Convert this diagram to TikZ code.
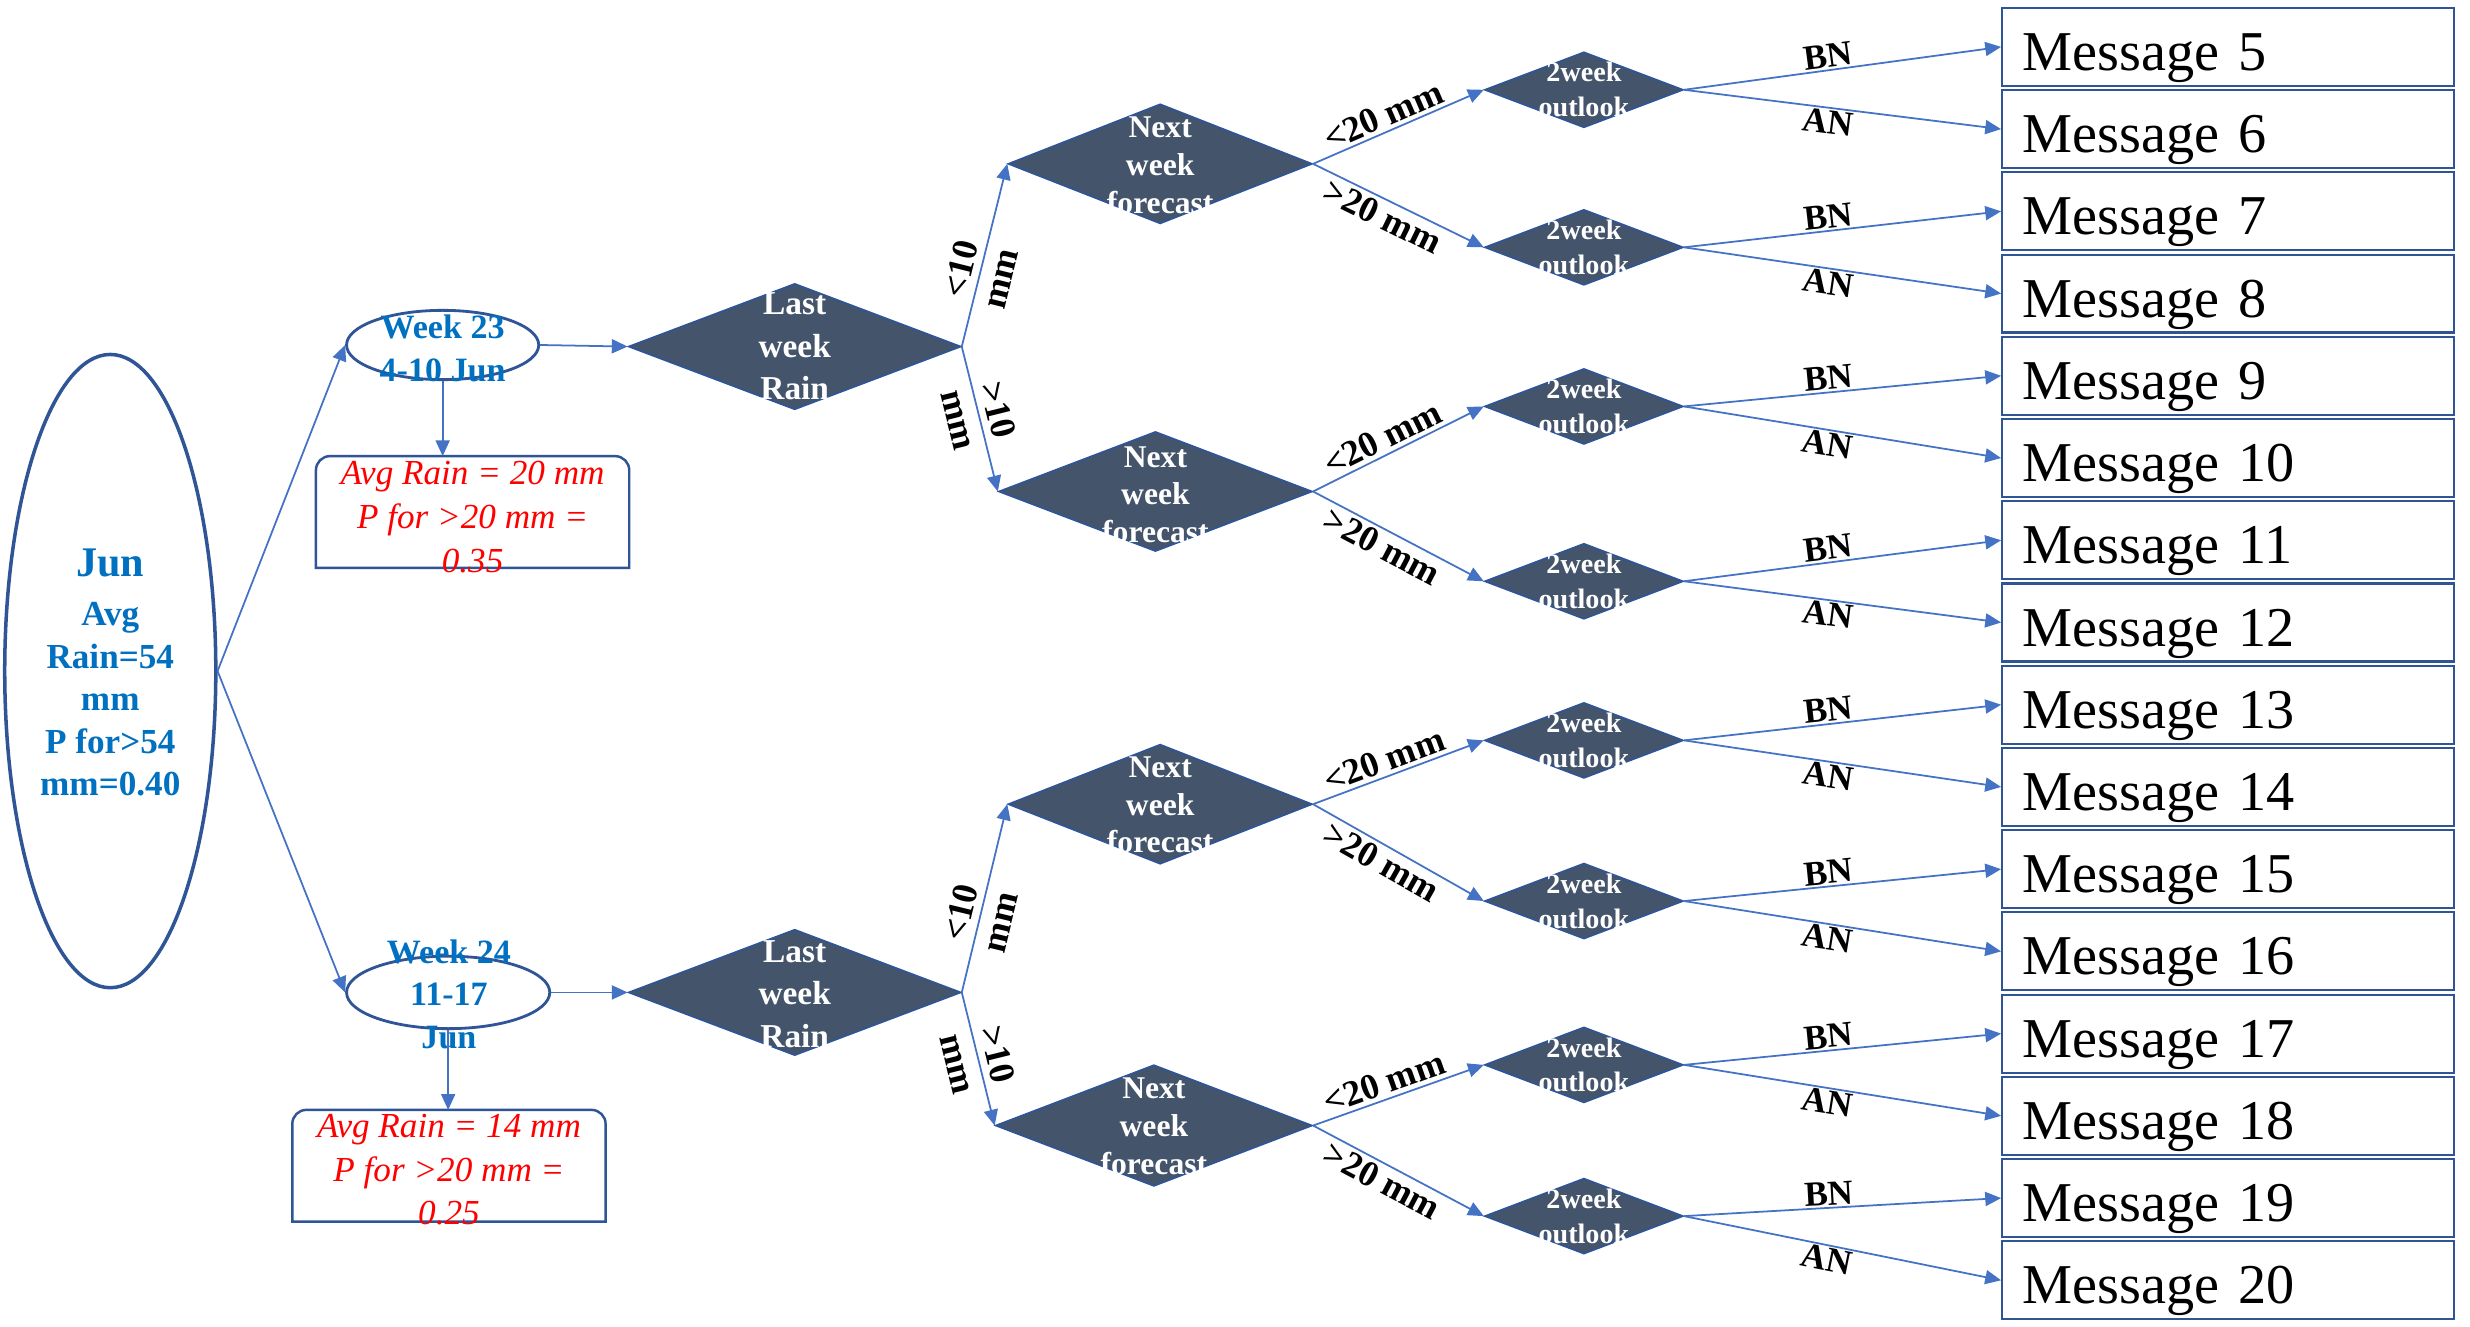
\documentclass[tikz,border=0pt]{standalone}
\usepackage{fontspec}
\setmainfont{Liberation Serif}
\usetikzlibrary{shapes.geometric,arrows.meta,calc}
\definecolor{arrowblue}{HTML}{4472C4}
\definecolor{darkblue}{HTML}{2F5597}
\definecolor{slate}{HTML}{44546A}
\definecolor{blueink}{HTML}{0070C0}
\definecolor{redink}{HTML}{FF0000}
\def\pxu{0.1575mm}
\tikzset{
  conn/.style={draw=arrowblue, line width=0.5pt, -{Triangle[length=4.5pt,width=4pt]}},
  dia/.style={diamond, fill=slate, draw=darkblue, line width=0.5pt, inner sep=0pt},
  oval/.style={ellipse, draw=darkblue, line width=0.8pt, inner sep=0pt},
  boxline/.style={draw=darkblue, line width=0.7pt},
  bluetxt/.style={text=blueink, font=\bfseries\fontsize{9.7}{12.1}\selectfont, align=center, inner sep=0pt},
  redtxt/.style={text=redink, font=\itshape\fontsize{10}{12.5}\selectfont, align=center, inner sep=0pt},
  lwrtxt/.style={text=white, font=\bfseries\fontsize{9.5}{12.1}\selectfont, align=center, inner sep=0pt},
  nwftxt/.style={text=white, font=\bfseries\fontsize{9}{10.75}\selectfont, align=center, inner sep=0pt},
  oltxt/.style={text=white, font=\bfseries\fontsize{8}{9.9}\selectfont, align=center, inner sep=0pt},
  msg/.style={rectangle, draw=darkblue, line width=0.6pt, minimum width=287*\pxu, minimum height=49.5*\pxu,
    inner xsep=13*\pxu, inner ysep=0pt, text width=261*\pxu, align=left, text height=13.4pt, text depth=0pt,
    font=\fontsize{16}{19}\selectfont},
  elbl/.style={font=\bfseries\fontsize{10.3}{11.5}\selectfont, sloped, inner sep=1pt},
  bnl/.style={font=\bfseries\fontsize{10}{11}\selectfont, sloped, inner sep=0.5pt},
}
\begin{document}
\begin{tikzpicture}[x=\pxu, y=-\pxu]
\fill[white] (0,0) rectangle (1568,842);
\useasboundingbox (0,0) rectangle (1568,842);

% root
\node[oval, line width=1pt, minimum width=134*\pxu, minimum height=402*\pxu] (jun) at (70,426) {};
\node[bluetxt, font=\bfseries\fontsize{10}{12.1}\selectfont] (junt) at (70,427)
  {{\fontsize{12}{12.1}\selectfont Jun}\\[1.8pt]Avg\\Rain=54\\mm\\P for>54\\mm=0.40};

% weeks
\node[oval, minimum width=122*\pxu, minimum height=44*\pxu] (wk23) at (281,219) {};
\node[bluetxt] (wk23t) at (281,221) {Week 23\\4-10 Jun};
\node[oval, minimum width=129*\pxu, minimum height=46*\pxu] (wk24) at (284.5,630) {};
\node[bluetxt] (wk24t) at (285,631) {Week 24\\11-17\\Jun};

% info boxes
\node[rectangle, inner sep=0pt, minimum width=198*\pxu, minimum height=70*\pxu] (b1) at (300,325) {};
\draw[boxline] (b1.south west) -- ([yshift=-4pt]b1.north west) arc[start angle=180,end angle=90,radius=4pt]
  -- ([xshift=-4pt]b1.north east) arc[start angle=90,end angle=0,radius=4pt] -- (b1.south east) -- cycle;
\node[redtxt] (b1t) at (300,328) {Avg Rain = 20 mm\\P for >20 mm =\\0.35};
\node[rectangle, inner sep=0pt, minimum width=198*\pxu, minimum height=70*\pxu] (b2) at (285,740) {};
\draw[boxline] (b2.south west) -- ([yshift=-4pt]b2.north west) arc[start angle=180,end angle=90,radius=4pt]
  -- ([xshift=-4pt]b2.north east) arc[start angle=90,end angle=0,radius=4pt] -- (b2.south east) -- cycle;
\node[redtxt] (b2t) at (285,742.5) {Avg Rain = 14 mm\\P for >20 mm =\\0.25};

% last week rain
\node[dia, minimum width=211*\pxu, minimum height=80*\pxu] (lwr1) at (504.5,220) {};
\node[lwrtxt] (lwr1t) at (504.5,220) {Last\\week\\Rain};
\node[dia, minimum width=211*\pxu, minimum height=80*\pxu] (lwr2) at (504.5,630) {};
\node[lwrtxt] (lwr2t) at (504.5,631) {Last\\week\\Rain};

% next week forecast
\node[dia, minimum width=193*\pxu, minimum height=76*\pxu] (nwf1) at (736.5,104) {};
\node[nwftxt] (nwf1t) at (736.5,105) {Next\\week\\forecast};
\node[dia, minimum width=199*\pxu, minimum height=76*\pxu] (nwf2) at (733.5,312) {};
\node[nwftxt] (nwf2t) at (733.5,314) {Next\\week\\forecast};
\node[dia, minimum width=193*\pxu, minimum height=76*\pxu] (nwf3) at (736.5,510.5) {};
\node[nwftxt] (nwf3t) at (736.5,511) {Next\\week\\forecast};
\node[dia, minimum width=201*\pxu, minimum height=77*\pxu] (nwf4) at (732.5,714.5) {};
\node[nwftxt] (nwf4t) at (732.5,715) {Next\\week\\forecast};

% outlooks
\foreach \i/\yy in {1/57,2/157,3/258,4/369,5/470,6/572,7/676,8/772} {
  \node[dia, minimum width=126*\pxu, minimum height=48*\pxu] (ol\i) at (1005.5,\yy) {};
  \node[oltxt] (olt\i) at (1005.5,\yy) {2week\\outlook};
}

% messages
\foreach \k in {0,...,15} {
  \pgfmathtruncatemacro\num{\k+5}
  \node[msg] (m\num) at (1414.5,{29.75+52.2*\k}) {Message \num};
}

% connectors
\draw[conn] (jun.east) -- (wk23.west);
\draw[conn] (jun.east) -- (wk24.west);
\draw[conn] (wk23.south) -- (wk23.south |- b1.north);
\draw[conn] (wk24.south) -- (wk24.south |- b2.north);
\draw[conn] (wk23.east) -- (lwr1.west);
\draw[conn] (wk24.east) -- (lwr2.west);

\draw[conn] (lwr1.east) -- node[elbl, pos=0.4, align=center] {<10\\mm} (nwf1.west);
\draw[conn] (lwr1.east) -- node[elbl, pos=0.47, align=center] {>10\\mm} (nwf2.west);
\draw[conn] (lwr2.east) -- node[elbl, pos=0.4, align=center] {<10\\mm} (nwf3.west);
\draw[conn] (lwr2.east) -- node[elbl, pos=0.5, align=center] {>10\\mm} (nwf4.west);

\draw[conn] (nwf1.east) -- node[elbl, above, pos=0.45] {<20 mm} (ol1.west);
\draw[conn] (nwf1.east) -- node[elbl, below, pos=0.45] {>20 mm} (ol2.west);
\draw[conn] (nwf2.east) -- node[elbl, above, pos=0.45] {<20 mm} (ol3.west);
\draw[conn] (nwf2.east) -- node[elbl, below, pos=0.45] {>20 mm} (ol4.west);
\draw[conn] (nwf3.east) -- node[elbl, above, pos=0.45] {<20 mm} (ol5.west);
\draw[conn] (nwf3.east) -- node[elbl, below, pos=0.45] {>20 mm} (ol6.west);
\draw[conn] (nwf4.east) -- node[elbl, above, pos=0.45] {<20 mm} (ol7.west);
\draw[conn] (nwf4.east) -- node[elbl, below, pos=0.45] {>20 mm} (ol8.west);

\foreach \i in {1,...,8} {
  \pgfmathtruncatemacro\ma{2*\i+3}
  \pgfmathtruncatemacro\mb{2*\i+4}
  \draw[conn] (ol\i.east) -- node[bnl, above, pos=0.46] {BN} (m\ma.west);
  \draw[conn] (ol\i.east) -- node[bnl, below, pos=0.46] {AN} (m\mb.west);
}
\end{tikzpicture}
\end{document}
